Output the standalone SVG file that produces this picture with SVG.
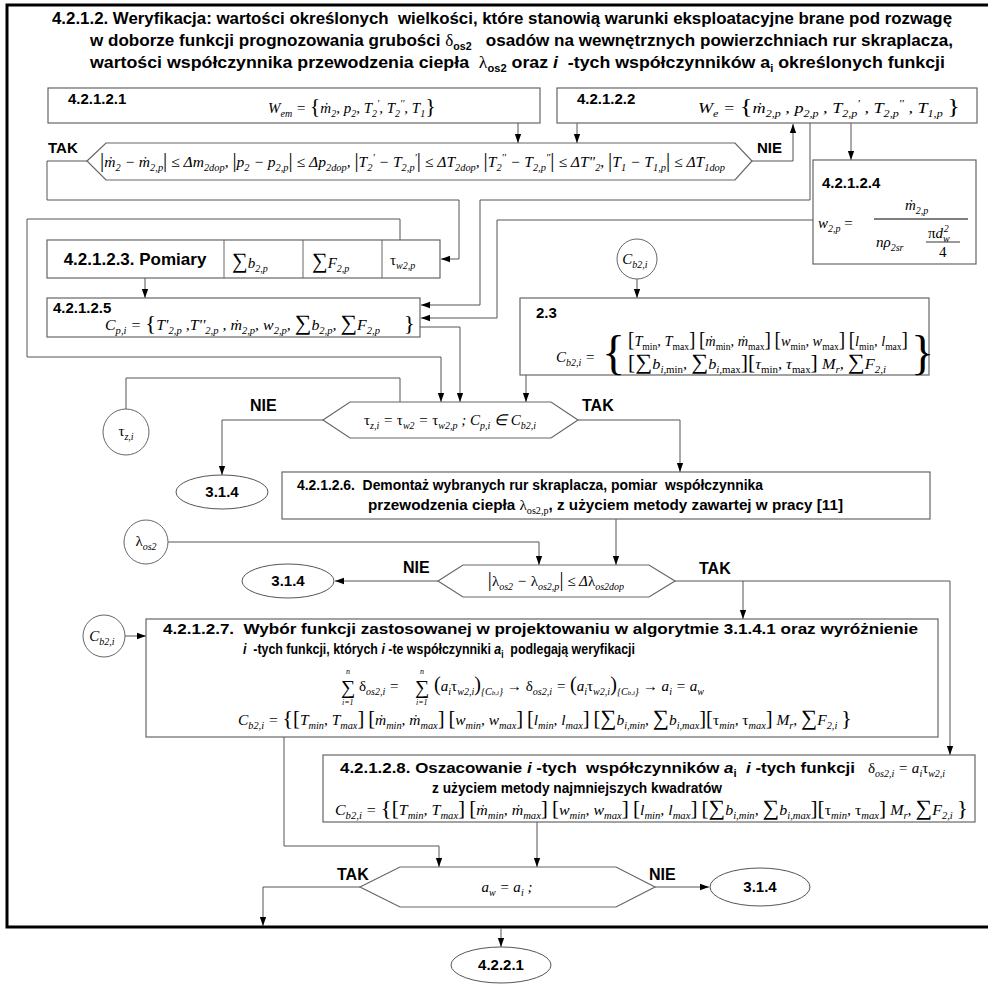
<svg xmlns="http://www.w3.org/2000/svg" width="988" height="984" viewBox="0 0 988 984">
<defs>
<style>
.bx{fill:#fff;stroke:#666;stroke-width:1.2}
.c{fill:none;stroke:#555;stroke-width:1}
.lb{font-family:"Liberation Sans",Arial,sans-serif;font-weight:bold;font-size:15px;fill:#000}
.m{font-family:"Liberation Serif","Times New Roman",serif;font-style:italic;font-size:15px;fill:#000}
.b{font-size:10px;baseline-shift:-4px}
.p{font-size:10px;baseline-shift:6px}
.u{font-style:normal}
.bk{font-size:20px;font-style:normal}
.sg{font-size:22px;font-style:normal}
.gs{font-family:"Liberation Serif",serif;font-weight:normal}
.ct{text-anchor:middle}
</style>
<marker id="a" viewBox="0 0 10 10" refX="10" refY="5" markerWidth="9" markerHeight="9" markerUnits="userSpaceOnUse" orient="auto"><path d="M0,1.5 L10,5 L0,8.5 Z" fill="#000"/></marker>
</defs>
<rect width="988" height="984" fill="#fff"/>
<g id="frame"><rect x="7" y="5" width="990" height="922" fill="none" stroke="#000" stroke-width="3"/></g>

<g id="title">
<text class="lb" x="52" y="24" style="font-size:16px" textLength="900" lengthAdjust="spacingAndGlyphs" xml:space="preserve">4.2.1.2. Weryfikacja: wartości określonych  wielkości, które stanowią warunki eksploatacyjne brane pod rozwagę</text>
<text class="lb" x="90" y="46" style="font-size:16px" textLength="863" lengthAdjust="spacingAndGlyphs" xml:space="preserve">w doborze funkcji prognozowania grubości <tspan class="gs">δ</tspan><tspan class="b">os2</tspan>   osadów na wewnętrznych powierzchniach rur skraplacza,</text>
<text class="lb" x="90" y="68" style="font-size:16px" textLength="855" lengthAdjust="spacingAndGlyphs" xml:space="preserve">wartości współczynnika przewodzenia ciepła  <tspan class="gs">λ</tspan><tspan class="b">os2</tspan> oraz <tspan font-style="italic">i</tspan>  -tych współczynników a<tspan class="b">i</tspan> określonych funkcji</text>
</g>

<g id="connectors">
<path class="c" d="M518,123 V143" marker-end="url(#a)"/>
<path class="c" d="M577,123 V143" marker-end="url(#a)"/>
<path class="c" d="M752,161 H793 V124" marker-end="url(#a)"/>
<path class="c" d="M87,161 H47 V200 H459 V259 H441" marker-end="url(#a)"/>
<path class="c" d="M810,123 V200 H480 V305 H421" marker-end="url(#a)"/>
<path class="c" d="M851,123 V160" marker-end="url(#a)"/>
<path class="c" d="M813,220 H497 V318 H421" marker-end="url(#a)"/>
<path class="c" d="M400,240 V219 H27 V357 H441 V402" marker-end="url(#a)"/>
<path class="c" d="M145,278 V298" marker-end="url(#a)"/>
<path class="c" d="M420,327 H460 V402" marker-end="url(#a)"/>
<path class="c" d="M637,279 V298" marker-end="url(#a)"/>
<path class="c" d="M526,375 V402" marker-end="url(#a)"/>
<path class="c" d="M126,409 V378 H400 V402"/>
<path class="c" d="M323,420 H222 V475" marker-end="url(#a)"/>
<path class="c" d="M578,420 H680 V472" marker-end="url(#a)"/>
<path class="c" d="M616,519 V565" marker-end="url(#a)"/>
<path class="c" d="M168,542 H539 V565" marker-end="url(#a)"/>
<path class="c" d="M438,581 H335" marker-end="url(#a)"/>
<path class="c" d="M675,581 H950 V755" marker-end="url(#a)"/>
<path class="c" d="M743,581 V619" marker-end="url(#a)"/>
<path class="c" d="M125,636 H146" marker-end="url(#a)"/>
<path class="c" d="M284,737 V846 H439 V867" marker-end="url(#a)"/>
<path class="c" d="M537,822 V867" marker-end="url(#a)"/>
<path class="c" d="M360,887 H263 V926" marker-end="url(#a)"/>
<path class="c" d="M655,887 H709" marker-end="url(#a)"/>
<path class="c" d="M501,928 V947" marker-end="url(#a)"/>
</g>

<g id="n4_2_1_2_1">
<rect class="bx" x="48" y="88" width="492" height="35"/>
<text class="lb" x="68" y="104">4.2.1.2.1</text>
<text class="m" x="268" y="113">W<tspan class="b">em</tspan> = <tspan class="sg">{</tspan>ṁ<tspan class="b">2</tspan>, p<tspan class="b">2</tspan>, T<tspan class="b">2</tspan><tspan class="p">'</tspan>, T<tspan class="b">2</tspan><tspan class="p">''</tspan>, T<tspan class="b">1</tspan><tspan class="sg">}</tspan></text>
</g>

<g id="n4_2_1_2_2">
<rect class="bx" x="557" y="88" width="420" height="35"/>
<text class="lb" x="577" y="104">4.2.1.2.2</text>
<text class="m" x="698" y="113" textLength="262" lengthAdjust="spacingAndGlyphs">W<tspan class="b">e</tspan> = <tspan class="sg">{</tspan>ṁ<tspan class="b">2,p</tspan> , p<tspan class="b">2,p</tspan> , T<tspan class="b">2,p</tspan><tspan class="p">'</tspan> , T<tspan class="b">2,p</tspan><tspan class="p">''</tspan> , T<tspan class="b">1,p</tspan> <tspan class="sg">}</tspan></text>
</g>

<g id="d1">
<polygon class="bx" points="87,161 106,143 735,143 752,161 735,180 106,180"/>
<text class="m" x="100" y="167" textLength="625" lengthAdjust="spacingAndGlyphs"><tspan class="bk">|</tspan>ṁ<tspan class="b">2</tspan> − ṁ<tspan class="b">2,p</tspan><tspan class="bk">|</tspan> ≤ Δm<tspan class="b">2dop</tspan>, <tspan class="bk">|</tspan>p<tspan class="b">2</tspan> − p<tspan class="b">2,p</tspan><tspan class="bk">|</tspan> ≤ Δp<tspan class="b">2dop</tspan>, <tspan class="bk">|</tspan>T<tspan class="b">2</tspan><tspan class="p">'</tspan> − T<tspan class="b">2,p</tspan><tspan class="p">'</tspan><tspan class="bk">|</tspan> ≤ ΔT<tspan class="b">2dop</tspan>, <tspan class="bk">|</tspan>T<tspan class="b">2</tspan><tspan class="p">''</tspan> − T<tspan class="b">2,p</tspan><tspan class="p">''</tspan><tspan class="bk">|</tspan> ≤ ΔT"<tspan class="b">2</tspan>, <tspan class="bk">|</tspan>T<tspan class="b">1</tspan> − T<tspan class="b">1,p</tspan><tspan class="bk">|</tspan> ≤ ΔT<tspan class="b">1dop</tspan></text>
<text class="lb" x="48" y="153">TAK</text>
<text class="lb" x="757" y="153">NIE</text>
</g>

<g id="n4_2_1_2_4">
<rect class="bx" x="813" y="160" width="163" height="104"/>
<text class="lb" x="822" y="188">4.2.1.2.4</text>
<text class="m" x="818" y="228">w<tspan class="b">2,p</tspan> <tspan class="u">=</tspan></text>
<text class="m" x="905" y="210">ṁ<tspan class="b">2,p</tspan></text>
<line x1="874" y1="219" x2="968" y2="219" stroke="#000" stroke-width="1"/>
<text class="m" x="876" y="247">nρ<tspan class="b">2sr</tspan></text>
<text class="m" x="928" y="238"><tspan class="u">π</tspan>d<tspan class="b">w</tspan><tspan class="p" dx="-6">2</tspan></text>
<line x1="926" y1="242" x2="960" y2="242" stroke="#000" stroke-width="0.8"/>
<text class="m u" x="939" y="257">4</text>
</g>

<g id="n4_2_1_2_3">
<rect class="bx" x="47" y="240" width="393" height="38"/>
<path d="M224,240 V278 M303,240 V278 M382,240 V278" stroke="#666" fill="none"/>
<text class="lb ct" x="135" y="265" style="font-size:17px">4.2.1.2.3. Pomiary</text>
<text class="m" x="232" y="268"><tspan class="sg">∑</tspan>b<tspan class="b">2,p</tspan></text>
<text class="m" x="312" y="268"><tspan class="sg">∑</tspan>F<tspan class="b">2,p</tspan></text>
<text class="m" x="390" y="265"><tspan class="u">τ</tspan><tspan class="b">w2,p</tspan></text>
</g>

<g id="n4_2_1_2_5">
<rect class="bx" x="47" y="298" width="373" height="39"/>
<text class="lb" x="53" y="313">4.2.1.2.5</text>
<text class="m" x="105" y="330" textLength="310" lengthAdjust="spacingAndGlyphs" xml:space="preserve">C<tspan class="b">p,i</tspan> = <tspan class="sg">{</tspan>T'<tspan class="b">2,p</tspan> ,T''<tspan class="b">2,p</tspan> , ṁ<tspan class="b">2,p</tspan>, w<tspan class="b">2,p</tspan>, <tspan class="sg">∑</tspan>b<tspan class="b">2,p</tspan>, <tspan class="sg">∑</tspan>F<tspan class="b">2,p</tspan>      <tspan class="sg">}</tspan></text>
</g>

<g id="cb2i_a">
<circle cx="637" cy="259" r="20" fill="#fff" stroke="#666"/>
<text class="m ct" x="635" y="264">C<tspan class="b">b2,i</tspan></text>
</g>

<g id="n2_3">
<rect class="bx" x="520" y="298" width="409" height="77"/>
<text class="lb" x="536" y="318">2.3</text>
<text class="m" x="556" y="362">C<tspan class="b">b2,i</tspan> =</text>
<text class="u" x="602" y="369" style="font-family:'Liberation Serif',serif;font-size:48px">{</text>
<text class="m" x="628" y="346" textLength="280" lengthAdjust="spacingAndGlyphs"><tspan class="bk">[</tspan>T<tspan class="b u">min</tspan>, T<tspan class="b u">max</tspan><tspan class="bk">]</tspan> <tspan class="bk">[</tspan>ṁ<tspan class="b u">min</tspan>, ṁ<tspan class="b u">max</tspan><tspan class="bk">]</tspan> <tspan class="bk">[</tspan>w<tspan class="b u">min</tspan>, w<tspan class="b u">max</tspan><tspan class="bk">]</tspan> <tspan class="bk">[</tspan>l<tspan class="b u">min</tspan>, l<tspan class="b u">max</tspan><tspan class="bk">]</tspan></text>
<text class="m" x="628" y="369" textLength="258" lengthAdjust="spacingAndGlyphs"><tspan class="bk">[</tspan><tspan class="sg">∑</tspan>b<tspan class="b">i,<tspan class="u">min</tspan></tspan>, <tspan class="sg">∑</tspan>b<tspan class="b">i,<tspan class="u">max</tspan></tspan><tspan class="bk">]</tspan><tspan class="bk">[</tspan>τ<tspan class="b u">min</tspan>, τ<tspan class="b u">max</tspan><tspan class="bk">]</tspan> M<tspan class="b">r</tspan>, <tspan class="sg">∑</tspan>F<tspan class="b">2,i</tspan></text>
<text class="u" x="911" y="369" style="font-family:'Liberation Serif',serif;font-size:48px">}</text>
</g>

<g id="tauzi">
<circle cx="126" cy="432" r="23" fill="#fff" stroke="#666"/>
<text class="m ct" x="126" y="436"><tspan class="u">τ</tspan><tspan class="b">z,i</tspan></text>
</g>

<g id="d2">
<polygon class="bx" points="323,420 350,402 551,402 578,420 551,438 350,438"/>
<text class="m ct" x="450" y="425"><tspan class="u">τ</tspan><tspan class="b">z,i</tspan> = <tspan class="u">τ</tspan><tspan class="b">w2</tspan> = <tspan class="u">τ</tspan><tspan class="b">w2,p</tspan> ; C<tspan class="b">p,i</tspan> ∈ C<tspan class="b">b2,i</tspan></text>
<text class="lb" x="250" y="411" style="font-size:16px">NIE</text>
<text class="lb" x="582" y="411" style="font-size:16px">TAK</text>
</g>

<g id="e314_a">
<ellipse cx="222" cy="492" rx="46" ry="17" fill="#fff" stroke="#555"/>
<text class="lb ct" x="222" y="497">3.1.4</text>
</g>

<g id="n4_2_1_2_6">
<rect class="bx" x="282" y="472" width="648" height="47"/>
<text class="lb" x="297" y="490" textLength="466" lengthAdjust="spacingAndGlyphs" xml:space="preserve">4.2.1.2.6.  Demontaż wybranych rur skraplacza, pomiar  współczynnika</text>
<text class="lb" x="368" y="510" textLength="475" lengthAdjust="spacingAndGlyphs">przewodzenia ciepła <tspan class="gs">λ</tspan><tspan class="b gs">os2,p</tspan>, z użyciem metody zawartej w pracy [11]</text>
</g>

<g id="lambda">
<circle cx="146" cy="542" r="22" fill="#fff" stroke="#666"/>
<text class="m ct" x="146" y="546"><tspan class="u">λ</tspan><tspan class="b">os2</tspan></text>
</g>

<g id="d3">
<polygon class="bx" points="438,581 463,565 649,565 675,581 649,597 463,597"/>
<text class="m ct" x="556" y="586"><tspan class="bk">|</tspan><tspan class="u">λ</tspan><tspan class="b">os2</tspan> − <tspan class="u">λ</tspan><tspan class="b">os2,p</tspan><tspan class="bk">|</tspan> ≤ Δ<tspan class="u">λ</tspan><tspan class="b">os2dop</tspan></text>
<text class="lb" x="403" y="573" style="font-size:16px">NIE</text>
<text class="lb" x="699" y="574" style="font-size:16px">TAK</text>
</g>

<g id="e314_b">
<ellipse cx="288" cy="581" rx="46" ry="17" fill="#fff" stroke="#555"/>
<text class="lb ct" x="288" y="586">3.1.4</text>
</g>

<g id="cb2i_b">
<circle cx="104" cy="636" r="21" fill="#fff" stroke="#666"/>
<text class="m ct" x="102" y="641">C<tspan class="b">b2,i</tspan></text>
</g>

<g id="n4_2_1_2_7">
<rect class="bx" x="146" y="619" width="792" height="118"/>
<text class="lb" x="163" y="634" textLength="755" lengthAdjust="spacingAndGlyphs" xml:space="preserve">4.2.1.2.7.  Wybór funkcji zastosowanej w projektowaniu w algorytmie 3.1.4.1 oraz wyróżnienie</text>
<text class="lb" x="243" y="654" textLength="392" lengthAdjust="spacingAndGlyphs" xml:space="preserve"><tspan font-style="italic">i</tspan>  -tych funkcji, których <tspan font-style="italic">i</tspan> -te współczynniki <tspan font-style="italic">a</tspan><tspan class="b">i</tspan>  podlegają weryfikacji</text>
<text class="m u" x="341" y="694" style="font-size:20px">∑</text>
<text class="m" x="346" y="674" style="font-size:8px">n</text>
<text class="m" x="342" y="705" style="font-size:8px">i=1</text>
<text class="m" x="359" y="691"><tspan class="u">δ</tspan><tspan class="b">os2,i</tspan> =</text>
<text class="m u" x="415" y="694" style="font-size:20px">∑</text>
<text class="m" x="420" y="674" style="font-size:8px">n</text>
<text class="m" x="416" y="705" style="font-size:8px">i=1</text>
<text class="m" x="434" y="691" textLength="270" lengthAdjust="spacingAndGlyphs"><tspan class="bk">(</tspan>a<tspan class="b">i</tspan><tspan class="u">τ</tspan><tspan class="b">w2,i</tspan><tspan class="bk">)</tspan><tspan class="b">{C<tspan style="font-size:7px">b,i</tspan>}</tspan> <tspan class="u">→</tspan> <tspan class="u">δ</tspan><tspan class="b">os2,i</tspan> = <tspan class="bk">(</tspan>a<tspan class="b">i</tspan><tspan class="u">τ</tspan><tspan class="b">w2,i</tspan><tspan class="bk">)</tspan><tspan class="b">{C<tspan style="font-size:7px">b,i</tspan>}</tspan> <tspan class="u">→</tspan> a<tspan class="b">i</tspan> = a<tspan class="b">w</tspan></text>
<text class="m" x="238" y="725" textLength="614" lengthAdjust="spacingAndGlyphs">C<tspan class="b">b2,i</tspan> = <tspan class="sg">{</tspan><tspan class="bk">[</tspan>T<tspan class="b">min</tspan>, T<tspan class="b">max</tspan><tspan class="bk">]</tspan> <tspan class="bk">[</tspan>ṁ<tspan class="b">min</tspan>, ṁ<tspan class="b">max</tspan><tspan class="bk">]</tspan> <tspan class="bk">[</tspan>w<tspan class="b">min</tspan>, w<tspan class="b">max</tspan><tspan class="bk">]</tspan> <tspan class="bk">[</tspan>l<tspan class="b">min</tspan>, l<tspan class="b">max</tspan><tspan class="bk">]</tspan> <tspan class="bk">[</tspan><tspan class="sg">∑</tspan>b<tspan class="b">i,min</tspan>, <tspan class="sg">∑</tspan>b<tspan class="b">i,max</tspan><tspan class="bk">]</tspan><tspan class="bk">[</tspan><tspan class="u">τ</tspan><tspan class="b">min</tspan>, <tspan class="u">τ</tspan><tspan class="b">max</tspan><tspan class="bk">]</tspan> M<tspan class="b">r</tspan>, <tspan class="sg">∑</tspan>F<tspan class="b">2,i</tspan>   <tspan class="sg">}</tspan></text>
</g>

<g id="n4_2_1_2_8">
<rect class="bx" x="323" y="755" width="652" height="67"/>
<text class="lb" x="340" y="773" textLength="515" lengthAdjust="spacingAndGlyphs" xml:space="preserve">4.2.1.2.8. Oszacowanie <tspan font-style="italic">i</tspan> -tych  współczynników <tspan font-style="italic">a</tspan><tspan class="b">i</tspan>  <tspan font-style="italic">i</tspan> -tych funkcji</text>
<text class="m" x="868" y="773"><tspan class="u">δ</tspan><tspan class="b">os2,i</tspan> = a<tspan class="b">i</tspan><tspan class="u">τ</tspan><tspan class="b">w2,i</tspan></text>
<text class="lb" x="432" y="793" textLength="290" lengthAdjust="spacingAndGlyphs">z użyciem metody najmniejszych kwadratów</text>
<text class="m" x="335" y="815" textLength="633" lengthAdjust="spacingAndGlyphs">C<tspan class="b">b2,i</tspan> = <tspan class="sg">{</tspan><tspan class="bk">[</tspan>T<tspan class="b">min</tspan>, T<tspan class="b">max</tspan><tspan class="bk">]</tspan> <tspan class="bk">[</tspan>ṁ<tspan class="b">min</tspan>, ṁ<tspan class="b">max</tspan><tspan class="bk">]</tspan> <tspan class="bk">[</tspan>w<tspan class="b">min</tspan>, w<tspan class="b">max</tspan><tspan class="bk">]</tspan> <tspan class="bk">[</tspan>l<tspan class="b">min</tspan>, l<tspan class="b">max</tspan><tspan class="bk">]</tspan> <tspan class="bk">[</tspan><tspan class="sg">∑</tspan>b<tspan class="b">i,min</tspan>, <tspan class="sg">∑</tspan>b<tspan class="b">i,max</tspan><tspan class="bk">]</tspan><tspan class="bk">[</tspan><tspan class="u">τ</tspan><tspan class="b">min</tspan>, <tspan class="u">τ</tspan><tspan class="b">max</tspan><tspan class="bk">]</tspan> M<tspan class="b">r</tspan>, <tspan class="sg">∑</tspan>F<tspan class="b">2,i</tspan>  <tspan class="sg">}</tspan></text>
</g>

<g id="d4">
<polygon class="bx" points="360,887 400,867 616,867 655,887 616,907 400,907"/>
<text class="m ct" x="507" y="892">a<tspan class="b">w</tspan> = a<tspan class="b">i</tspan> ;</text>
<text class="lb" x="337" y="880" style="font-size:16px">TAK</text>
<text class="lb" x="649" y="880" style="font-size:16px">NIE</text>
</g>

<g id="e314_c">
<ellipse cx="760" cy="887" rx="50" ry="19" fill="#fff" stroke="#555"/>
<text class="lb ct" x="760" y="892">3.1.4</text>
</g>

<g id="e4_2_2_1">
<ellipse cx="501" cy="965" rx="50" ry="18" fill="#fff" stroke="#555"/>
<text class="lb ct" x="501" y="970">4.2.2.1</text>
</g>
</svg>
